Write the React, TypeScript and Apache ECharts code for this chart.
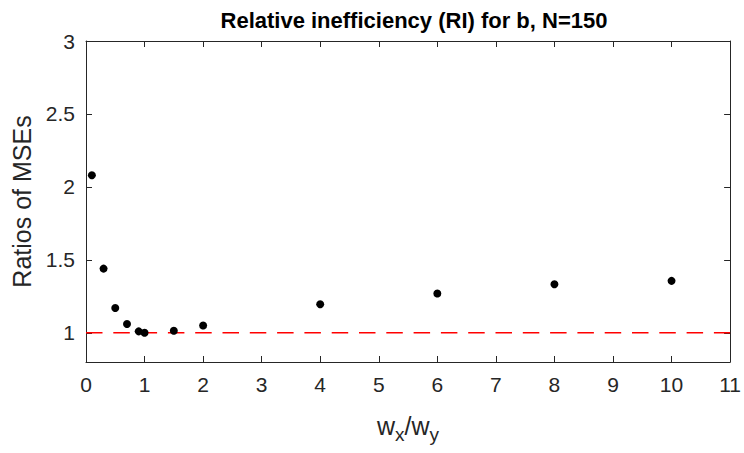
import React, { useEffect, useRef } from "react";
import * as echarts from "echarts";

const xValues = [0.1, 0.3, 0.5, 0.7, 0.9, 1.0, 1.5, 2, 4, 6, 8, 10];
const riValues = [2.08, 1.44, 1.17, 1.06, 1.01, 1.0, 1.014, 1.05, 1.196, 1.27, 1.333, 1.356];
const refLine = [[0, 1], [11, 1]];
const yTicks = [1, 1.5, 2, 2.5, 3];
const titleText = "Relative inefficiency (RI) for b, N=150";
const yName = "Ratios of MSEs";

const FONT = "Liberation Sans, Arial, Helvetica, sans-serif";
const AX = "#262626";

export default function App() {
  const ref = useRef<HTMLDivElement>(null);
  useEffect(() => {
    if (!ref.current) return;
    const chart = echarts.init(ref.current, null, { renderer: "svg" });
    const axisCommon = {
      axisLine: { show: true, onZero: false, lineStyle: { color: AX, width: 1 } },
      splitLine: { show: false },
    };
    const xTick = { show: true, inside: true, length: 6, lineStyle: { color: AX } };
    const yTick = { show: true, inside: true, length: 6, lineStyle: { color: AX }, customValues: yTicks };
    chart.setOption({
      animation: false,
      backgroundColor: "#ffffff",
      title: {
        text: titleText,
        left: 409,
        textAlign: "center",
        top: 4,
        textStyle: { fontFamily: FONT, fontSize: 22, fontWeight: "bold", color: "#000" },
      },
      grid: { left: 86, right: 12, top: 41, bottom: 91 },
      xAxis: [
        {
          type: "value",
          min: 0,
          max: 11,
          interval: 1,
          position: "bottom",
          ...axisCommon,
          axisTick: xTick,
          axisLabel: { color: AX, fontFamily: FONT, fontSize: 21, margin: 12 },
          name: "{n|w}{s|x}{n|/w}{s|y}",
          nameLocation: "middle",
          nameGap: 50,
          nameTextStyle: {
            rich: {
              n: { fontFamily: FONT, fontSize: 25, color: AX, lineHeight: 28 },
              s: { fontFamily: FONT, fontSize: 19, color: AX, lineHeight: 28, padding: [16, 0, 0, 0] },
            },
          },
        },
        {
          type: "value",
          min: 0,
          max: 11,
          interval: 1,
          position: "top",
          ...axisCommon,
          axisTick: xTick,
          axisLabel: { show: false },
        },
      ],
      yAxis: [
        {
          type: "value",
          min: 0.8,
          max: 3,
          ...axisCommon,
          axisTick: yTick,
          axisLabel: {
            color: AX,
            fontFamily: FONT,
            fontSize: 21,
            margin: 11,
            customValues: yTicks,
          },
          name: yName,
          nameLocation: "middle",
          nameGap: 52,
          nameTextStyle: { fontFamily: FONT, fontSize: 25, color: AX },
        },
        {
          type: "value",
          min: 0.8,
          max: 3,
          position: "right",
          ...axisCommon,
          axisTick: yTick,
          axisLabel: { show: false },
        },
      ],
      series: [
        {
          type: "line",
          data: refLine,
          symbol: "none",
          lineStyle: { color: "#ff0000", width: 1.5, type: [16.5, 10.8] },
          z: 1,
        },
        {
          type: "scatter",
          data: xValues.map((x, i) => [x, riValues[i]]),
          symbol: "circle",
          symbolSize: 8,
          itemStyle: { color: "#000", opacity: 1 },
          z: 2,
        },
      ],
    });
    return () => chart.dispose();
  }, []);
  return <div ref={ref} style={{ position: "fixed", left: 0, top: 0, width: 744, height: 453 }} />;
}
